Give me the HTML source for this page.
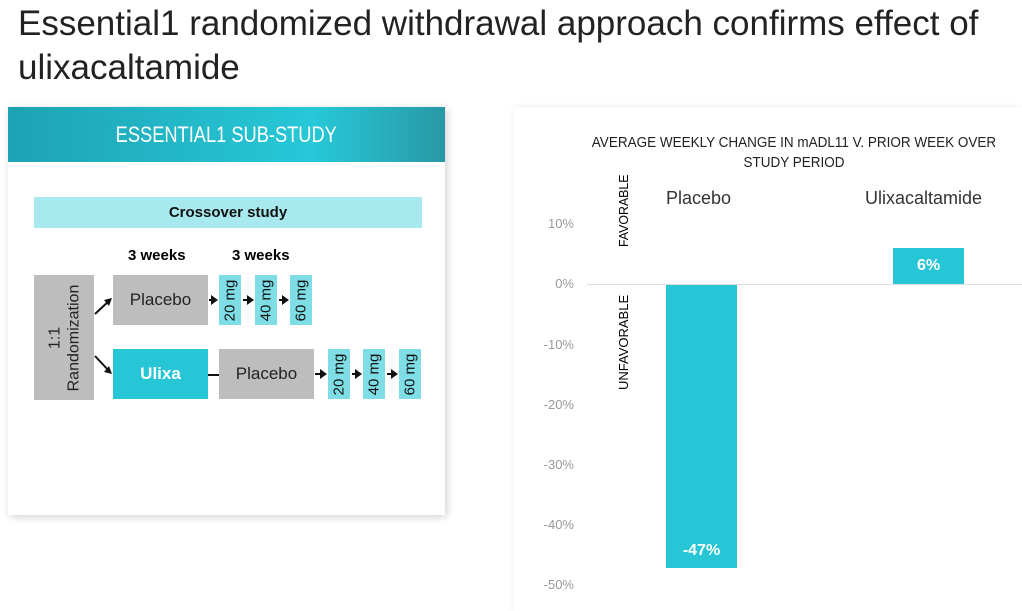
<!DOCTYPE html>
<html><head><style>
body{margin:0;width:1022px;height:611px;background:#fff;position:relative;overflow:hidden;font-family:"Liberation Sans",sans-serif}
.a{position:absolute}
.box{position:absolute;display:flex;align-items:center;justify-content:center}
.g{background:#bdbdbd;color:#222}
.c{background:#26c6d6}
.d{background:#7fdde6;width:22px;height:50px}
.d span{transform:rotate(-90deg);white-space:nowrap;font-size:15px;color:#111}
.ar{position:absolute;height:2px;background:#111}
.ar:after{content:"";position:absolute;right:-2px;top:-4px;border-left:7px solid #111;border-top:5px solid transparent;border-bottom:5px solid transparent}
.t{position:absolute;right:448px;font-size:13px;color:#999;text-align:right}
</style></head><body>
<div class="a" style="left:18px;top:2px;font-size:35px;line-height:44px;color:#222;width:1000px">Essential1 randomized withdrawal approach confirms effect of ulixacaltamide</div>

<div class="a" style="left:8px;top:107px;width:437px;height:408px;background:#fff;box-shadow:2px 2px 8px rgba(0,0,0,0.18)"></div>
<div class="box" style="left:8px;top:107px;width:437px;height:55px;background:linear-gradient(90deg,#1da3b3,#27c8d8 70%,#2898a6);color:#fff;font-size:22px"><span style="display:inline-block;transform:scaleX(0.83)">ESSENTIAL1 SUB-STUDY</span></div>
<div class="box" style="left:34px;top:197px;width:388px;height:31px;background:#a8e9ef;font-weight:bold;font-size:15px;color:#111">Crossover study</div>
<div class="a" style="left:128px;top:247px;font-weight:bold;font-size:15px">3 weeks</div>
<div class="a" style="left:232px;top:247px;font-weight:bold;font-size:15px">3 weeks</div>
<div class="box g" style="left:34px;top:275px;width:60px;height:125px"><span style="transform:rotate(-90deg);white-space:nowrap;font-size:16px;text-align:center;line-height:19px">1:1<br>Randomization</span></div>
<div class="box g" style="left:113px;top:275px;width:95px;height:50px;font-size:17px">Placebo</div>
<div class="box c" style="left:113px;top:349px;width:95px;height:50px;font-size:17px;color:#fff;font-weight:bold">Ulixa</div>
<div class="box g" style="left:219px;top:349px;width:95px;height:50px;font-size:17px">Placebo</div>
<div class="a" style="left:208px;top:374px;width:11px;height:2px;background:#111"></div>
<svg class="a" style="left:94px;top:290px" width="20" height="95"><path d="M1 24 L16 10 M1 66 L16 82" stroke="#111" stroke-width="2"/><path d="M18 8 L10 10 L15 16Z M18 84 L10 82 L15 76Z" fill="#111"/></svg>
<div class="box d" style="left:219px;top:275px"><span>20 mg</span></div>
<div class="box d" style="left:255px;top:275px"><span>40 mg</span></div>
<div class="box d" style="left:290px;top:275px"><span>60 mg</span></div>
<div class="box d" style="left:328px;top:349px"><span>20 mg</span></div>
<div class="box d" style="left:363px;top:349px"><span>40 mg</span></div>
<div class="box d" style="left:399px;top:349px"><span>60 mg</span></div>
<div class="ar" style="left:209px;top:299px;width:7px"></div>
<div class="ar" style="left:243px;top:299px;width:9px"></div>
<div class="ar" style="left:279px;top:299px;width:8px"></div>
<div class="ar" style="left:315px;top:373px;width:10px"></div>
<div class="ar" style="left:352px;top:373px;width:8px"></div>
<div class="ar" style="left:387px;top:373px;width:9px"></div>

<div class="a" style="left:514px;top:107px;width:508px;height:504px;box-shadow:0 0 6px rgba(0,0,0,0.08)"></div>
<div class="a" style="left:544px;top:133px;width:500px;text-align:center;font-size:15px;line-height:20px;color:#222;transform:scaleX(0.9);transform-origin:250px 0">AVERAGE WEEKLY CHANGE IN mADL11 V. PRIOR WEEK OVER<br>STUDY PERIOD</div>
<div class="a" style="left:666px;top:188px;font-size:18px;color:#333">Placebo</div>
<div class="a" style="left:865px;top:188px;font-size:18px;color:#333">Ulixacaltamide</div>
<div class="a" style="left:616px;top:247px;transform:rotate(-90deg) scaleX(0.95);transform-origin:0 0;font-size:13px;width:80px;white-space:nowrap">FAVORABLE</div>
<div class="a" style="left:616px;top:390px;transform:rotate(-90deg);transform-origin:0 0;font-size:13px;width:95px;white-space:nowrap">UNFAVORABLE</div>
<div class="t" style="top:216px">10%</div>
<div class="t" style="top:276px">0%</div>
<div class="t" style="top:337px">-10%</div>
<div class="t" style="top:397px">-20%</div>
<div class="t" style="top:457px">-30%</div>
<div class="t" style="top:517px">-40%</div>
<div class="t" style="top:577px">-50%</div>
<div class="a" style="left:587px;top:284px;width:435px;height:1px;background:#ddd"></div>
<div class="box c" style="left:666px;top:285px;width:71px;height:283px;align-items:flex-end"><span style="color:#fff;font-weight:bold;font-size:16px;margin-bottom:8px">-47%</span></div>
<div class="box c" style="left:893px;top:248px;width:71px;height:36px;color:#fff;font-weight:bold;font-size:16px">6%</div>
</body></html>
